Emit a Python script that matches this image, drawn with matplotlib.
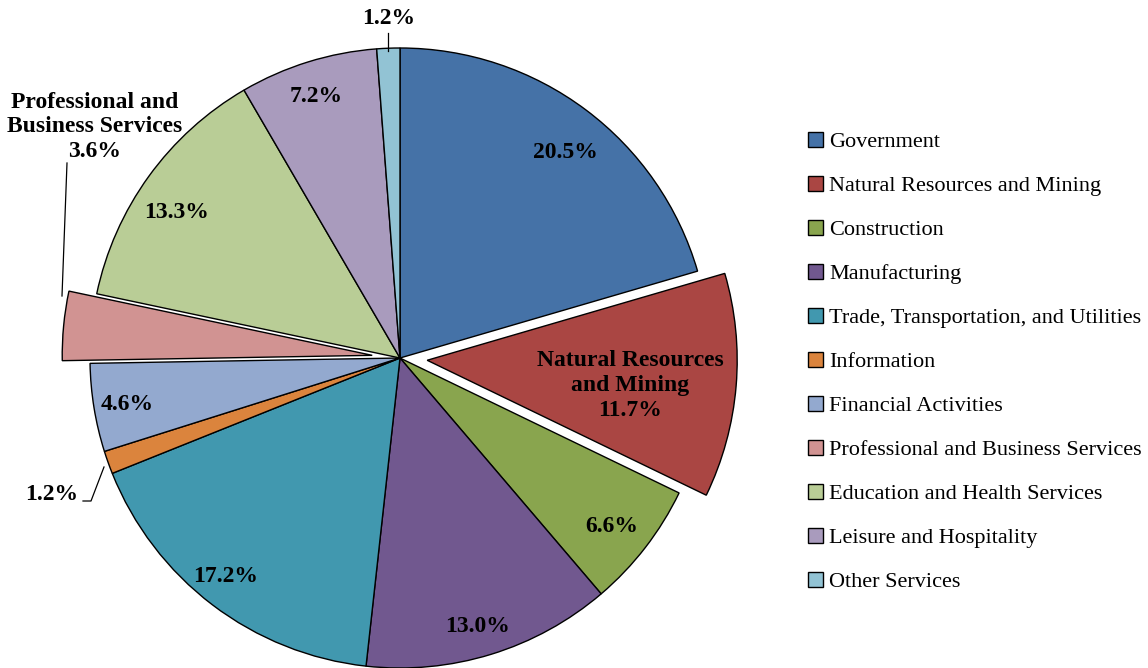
import numpy as np
import matplotlib.pyplot as plt
from matplotlib.patches import Patch

plt.rcParams['font.family'] = ['Liberation Serif', 'DejaVu Serif']

categories = ["Government", "Natural Resources and Mining", "Construction",
              "Manufacturing", "Trade, Transportation, and Utilities",
              "Information", "Financial Activities",
              "Professional and Business Services",
              "Education and Health Services", "Leisure and Hospitality",
              "Other Services"]
shares = [20.5, 11.7, 6.6, 13.0, 17.2, 1.2, 4.6, 3.6, 13.3, 7.2, 1.2]
colors = ["#4572A7", "#AA4643", "#89A54E", "#71588F", "#4198AF", "#DB843D",
          "#93A9CF", "#D19392", "#B9CD96", "#A99BBD", "#92C3D4"]
explode = [0, 0.088, 0, 0, 0, 0, 0, 0.09, 0, 0, 0]

W, H = 1148, 668
CX, CY, R = 400, 358, 310   # pie centre / radius in pixels


def px(x, y):
    # pixel position -> data coords (radius = 1)
    return (x - CX) / R, (CY - y) / R


fig = plt.figure(figsize=(W / 100, H / 100), dpi=100)
ax = fig.add_axes([0, 0, 1, 1])
wedges, _ = ax.pie(shares, colors=colors, explode=explode, startangle=90,
                   counterclock=False, radius=1,
                   wedgeprops=dict(edgecolor="black", linewidth=1.0))
ax.set_xlim(-CX / R, (W - CX) / R)
ax.set_ylim(-(H - CY) / R, CY / R)
ax.set_aspect("equal")
ax.axis("off")

lab = dict(fontsize=17, fontweight="bold", ha="center", va="center")
pct = ["%.1f%%" % v for v in shares]

ax.text(*px(565, 152), pct[0], **lab)
ax.text(*px(630, 386), "Natural Resources\nand Mining\n" + pct[1],
        linespacing=1.25, **lab)
ax.text(*px(612, 527), pct[2], **lab)
ax.text(*px(478, 627), pct[3], **lab)
ax.text(*px(226, 576), pct[4], **lab)
ax.text(*px(52, 494), pct[5], **lab)
ax.text(*px(127, 404), pct[6], **lab)
ax.text(*px(95, 127), "Professional and\nBusiness Services\n" + pct[7],
        linespacing=1.2, **lab)
ax.text(*px(177, 213), pct[8], **lab)
ax.text(*px(316, 96), pct[9], **lab)
ax.text(*px(389, 19), pct[10], **lab)

# leader lines
ax.plot(*zip(px(83, 501), px(91, 501), px(104, 467)), color="black", lw=0.9)
ax.plot(*zip(px(67, 163), px(62, 296)), color="black", lw=0.9)
ax.plot(*zip(px(388, 33), px(388, 51)), color="black", lw=0.9)

handles = [Patch(facecolor=c, edgecolor="black", linewidth=1.0) for c in colors]
ax.legend(handles, categories, loc="center left",
          bbox_to_anchor=(808 / W, 1 - 362 / H), bbox_transform=fig.transFigure,
          frameon=False, fontsize=16, handlelength=0.66, handleheight=0.66,
          handletextpad=0.3, labelspacing=1.07, borderaxespad=0, borderpad=0)

fig.savefig("out.png", dpi=100)
